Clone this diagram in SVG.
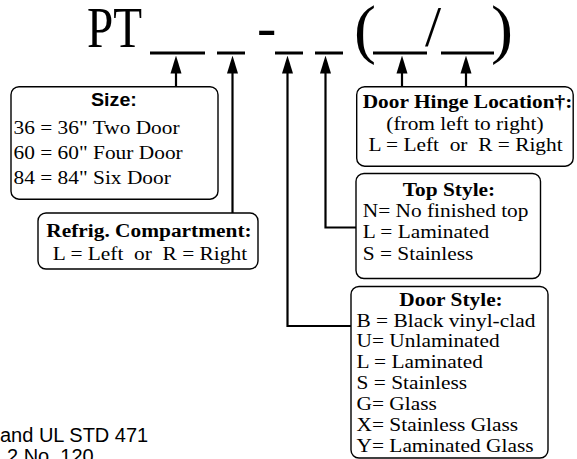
<svg xmlns="http://www.w3.org/2000/svg" width="577" height="459" viewBox="0 0 577 459">
<defs>
<style>
.box{fill:#fff;stroke:#000;stroke-width:1.4}
.t{font-family:"Liberation Serif","Times New Roman",serif;font-size:19px;fill:#000}
.b{font-family:"Liberation Serif","Times New Roman",serif;font-size:19px;font-weight:bold;fill:#000}
.s{font-family:"Liberation Sans",Arial,sans-serif;font-size:17.5px;font-weight:bold;fill:#000}
.n{font-family:"Liberation Sans",Arial,sans-serif;font-size:20px;fill:#000}
.title{font-family:"Liberation Serif","Times New Roman",serif;font-size:58px;fill:#000}
.par{font-family:"Liberation Serif","Times New Roman",serif;font-size:66px;fill:#000}
.ul{stroke:#000;stroke-width:3}
.c{fill:none;stroke:#000;stroke-width:2.2;marker-start:url(#ah)}
.m{text-anchor:middle}
</style>
<marker id="ah" viewBox="0 0 18 12" refX="11.5" refY="6" markerWidth="18" markerHeight="12" markerUnits="userSpaceOnUse" orient="auto-start-reverse">
<path d="M0,0.5 L18,6 L0,11.5 z" fill="#000"/>
</marker>
</defs>
<rect width="577" height="459" fill="#fff"/>
<g id="title">
<text class="title" x="87" y="47" textLength="55" lengthAdjust="spacingAndGlyphs">PT</text>
<text class="title" x="257" y="46">-</text>
<text class="par" x="354" y="51">(</text>
<text class="title" x="425" y="46">/</text>
<text class="par" x="491" y="51">)</text>
<line class="ul" x1="150" y1="53" x2="205" y2="53"/>
<line class="ul" x1="217" y1="53" x2="245" y2="53"/>
<line class="ul" x1="275" y1="53" x2="303" y2="53"/>
<line class="ul" x1="315" y1="53" x2="343" y2="53"/>
<line class="ul" x1="373" y1="53" x2="427" y2="53"/>
<line class="ul" x1="441" y1="53" x2="494" y2="53"/>
</g>
<g id="connectors">
<path class="c" d="M176,62 V87"/>
<path class="c" d="M232.5,62 V213"/>
<path class="c" d="M287.5,62 V326 H351"/>
<path class="c" d="M325.5,62 V227.5 H356"/>
<path class="c" d="M402,62 V87"/>
<path class="c" d="M466,62 V87"/>
</g>
<g id="size">
<rect class="box" x="11" y="86.7" width="207" height="112.5" rx="8"/>
<g transform="translate(13.5,0) scale(1.125,1)">
<text class="s m" x="89.3" y="106.5">Size:</text>
<text class="t" x="0" y="134">36 = 36" Two Door</text>
<text class="t" x="0" y="159">60 = 60" Four Door</text>
<text class="t" x="0" y="184">84 = 84" Six Door</text>
</g>
</g>
<g id="refrig">
<rect class="box" x="38" y="213" width="220" height="56" rx="8"/>
<g transform="scale(1.125,1)">
<text class="b m" x="132.4" y="237.5">Refrig. Compartment:</text>
<text class="t m" x="133.3" y="260" xml:space="preserve">L = Left  or  R = Right</text>
</g>
</g>
<g id="hinge">
<rect class="box" x="356.7" y="86.7" width="216.5" height="79.5" rx="8"/>
<g transform="scale(1.125,1)">
<text class="b m" x="415.6" y="108.5">Door Hinge Location†:</text>
<text class="t m" x="413.3" y="130.5">(from left to right)</text>
<text class="t m" x="413.8" y="151.5" xml:space="preserve">L = Left  or  R = Right</text>
</g>
</g>
<g id="top">
<rect class="box" x="356" y="173.5" width="184.5" height="105" rx="8"/>
<g transform="scale(1.125,1)">
<text class="b m" x="399.1" y="196">Top Style:</text>
<text class="t" x="322.4" y="216.7">N= No finished top</text>
<text class="t" x="322.4" y="238.5">L = Laminated</text>
<text class="t" x="322.4" y="260">S = Stainless</text>
</g>
</g>
<g id="door">
<rect class="box" x="351" y="286.5" width="197" height="171.5" rx="8"/>
<g transform="scale(1.125,1)">
<text class="b m" x="400.9" y="306">Door Style:</text>
<text class="t" x="316.9" y="326.7">B = Black vinyl-clad</text>
<text class="t" x="316.9" y="347.5">U= Unlaminated</text>
<text class="t" x="316.9" y="368.3">L = Laminated</text>
<text class="t" x="316.9" y="389">S = Stainless</text>
<text class="t" x="316.9" y="410">G= Glass</text>
<text class="t" x="316.9" y="431">X= Stainless Glass</text>
<text class="t" x="316.9" y="452">Y= Laminated Glass</text>
</g>
</g>
<g id="note">
<text class="n" x="0" y="441.5">and UL STD 471</text>
<text class="n" x="7" y="463">2 No. 120</text>
</g>
</svg>
